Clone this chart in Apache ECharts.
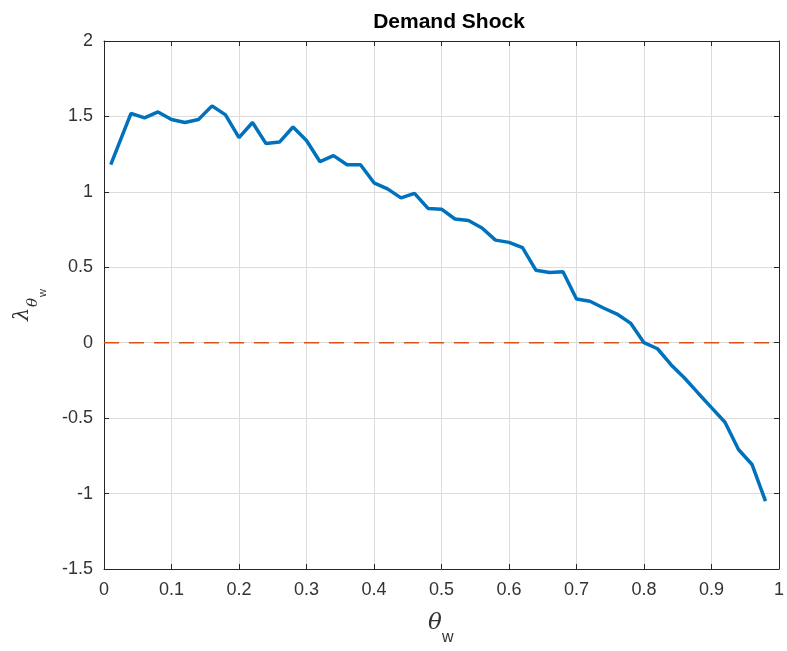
<!DOCTYPE html>
<html>
<head lang="en">
    <meta charset="UTF-8">
    <title>Demand Shock</title>
    <script src="https://cdn.jsdelivr.net/npm/echarts@6/dist/echarts.min.js"></script>
</head>
<body style="margin:0;background:#fff;">
<div id="chart" style="width:787px;height:651px;"></div>
<script>
// data
var thetaW = [0.01, 0.04, 0.06, 0.08, 0.10, 0.12, 0.14, 0.16, 0.18, 0.20,
              0.22, 0.24, 0.26, 0.28, 0.30, 0.32, 0.34, 0.36, 0.38, 0.40,
              0.42, 0.44, 0.46, 0.48, 0.50, 0.52, 0.54, 0.56, 0.58, 0.60,
              0.62, 0.64, 0.66, 0.68, 0.70, 0.72, 0.74, 0.76, 0.78, 0.80,
              0.82, 0.84, 0.86, 0.88, 0.90, 0.92, 0.94, 0.96, 0.98];
var lambda = [1.18, 1.52, 1.49, 1.53, 1.48, 1.46, 1.48, 1.57, 1.51, 1.36,
              1.46, 1.32, 1.33, 1.43, 1.34, 1.20, 1.24, 1.18, 1.18, 1.06,
              1.02, 0.96, 0.99, 0.89, 0.885, 0.82, 0.81, 0.76, 0.68, 0.665,
              0.63, 0.48, 0.465, 0.47, 0.29, 0.275, 0.23, 0.19, 0.13, 0.0,
              -0.04, -0.146, -0.234, -0.333, -0.43, -0.527, -0.708, -0.807, -1.05];
var zeroLine = [[0, 0], [1, 0]];
var xTicks = [0, 1, 0.1];     // min, max, step
var yTicks = [-1.5, 2, 0.5];

var chart = echarts.init(document.getElementById('chart'));

var lineData = thetaW.map(function (x, i) { return [x, lambda[i]]; });

var labelColor = '#333';
var boxColor = '#262626';

function fmt(v) { return String(Math.round(v * 10) / 10); }

function boxAxis(pos) {
    return {
        type: 'value', position: pos,
        axisLine: { show: true, onZero: false, lineStyle: { color: boxColor, width: 1 } },
        axisTick: { show: true, inside: true, length: 5, lineStyle: { color: boxColor } },
        axisLabel: { show: false },
        splitLine: { show: false }
    };
}

var xTop = boxAxis('top');
xTop.min = xTicks[0]; xTop.max = xTicks[1]; xTop.interval = xTicks[2];
var yRight = boxAxis('right');
yRight.min = yTicks[0]; yRight.max = yTicks[1]; yRight.interval = yTicks[2];

var option = {
    backgroundColor: '#fff',
    animation: false,
    title: {
        text: 'Demand Shock',
        left: 444,
        textAlign: 'center',
        top: 7,
        textStyle: { fontFamily: 'Liberation Sans, Arial', fontWeight: 'bold', fontSize: 21, color: '#000' }
    },
    grid: { left: 104, right: 5, top: 41, bottom: 82 },
    xAxis: [
        {
            type: 'value', min: xTicks[0], max: xTicks[1], interval: xTicks[2],
            position: 'bottom',
            axisLine: { show: true, onZero: false, lineStyle: { color: boxColor, width: 1 } },
            axisTick: { show: true, inside: true, length: 5, lineStyle: { color: boxColor } },
            axisLabel: { color: labelColor, fontSize: 18, margin: 12, fontFamily: 'Liberation Sans, Arial', formatter: fmt },
            splitLine: { show: true, lineStyle: { color: '#dcdcdc', width: 1 } }
        },
        xTop
    ],
    yAxis: [
        {
            type: 'value', min: yTicks[0], max: yTicks[1], interval: yTicks[2],
            position: 'left',
            axisLine: { show: true, onZero: false, lineStyle: { color: boxColor, width: 1 } },
            axisTick: { show: true, inside: true, length: 5, lineStyle: { color: boxColor } },
            axisLabel: { color: labelColor, fontSize: 18, margin: 11, fontFamily: 'Liberation Sans, Arial', formatter: fmt },
            splitLine: { show: true, lineStyle: { color: '#dcdcdc', width: 1 } }
        },
        yRight
    ],
    series: [
        {
            name: 'zero',
            type: 'line',
            data: zeroLine,
            showSymbol: false,
            silent: true,
            lineStyle: { color: '#D95319', width: 1.5, type: [15, 10] },
            z: 2
        },
        {
            name: 'lambda',
            type: 'line',
            data: lineData,
            showSymbol: false,
            lineStyle: { color: '#0072BD', width: 3.5 },
            z: 3
        }
    ],
    graphic: [
        // x axis label: theta_w
        {
            type: 'text', left: 428, top: 612,
            style: { text: 'θ', font: 'italic 23px "DejaVu Serif", serif', fill: labelColor }
        },
        {
            type: 'text', left: 442, top: 630,
            style: { text: 'w', font: '16px "Liberation Sans", Arial', fill: labelColor }
        },
        // y axis label: lambda_{theta_w}, rotated
        {
            type: 'group', x: 24, y: 321, rotation: Math.PI / 2,
            children: [
                { type: 'text', x: 0, y: -12, style: { text: 'λ', font: 'italic 21px "DejaVu Serif", serif', fill: labelColor } },
                { type: 'text', x: 14, y: 2, style: { text: 'θ', font: 'italic 15px "DejaVu Serif", serif', fill: labelColor } },
                { type: 'text', x: 24, y: 13, style: { text: 'w', font: '11px "Liberation Sans", Arial', fill: labelColor } }
            ]
        }
    ]
};

chart.setOption(option);
</script>
</body>
</html>
